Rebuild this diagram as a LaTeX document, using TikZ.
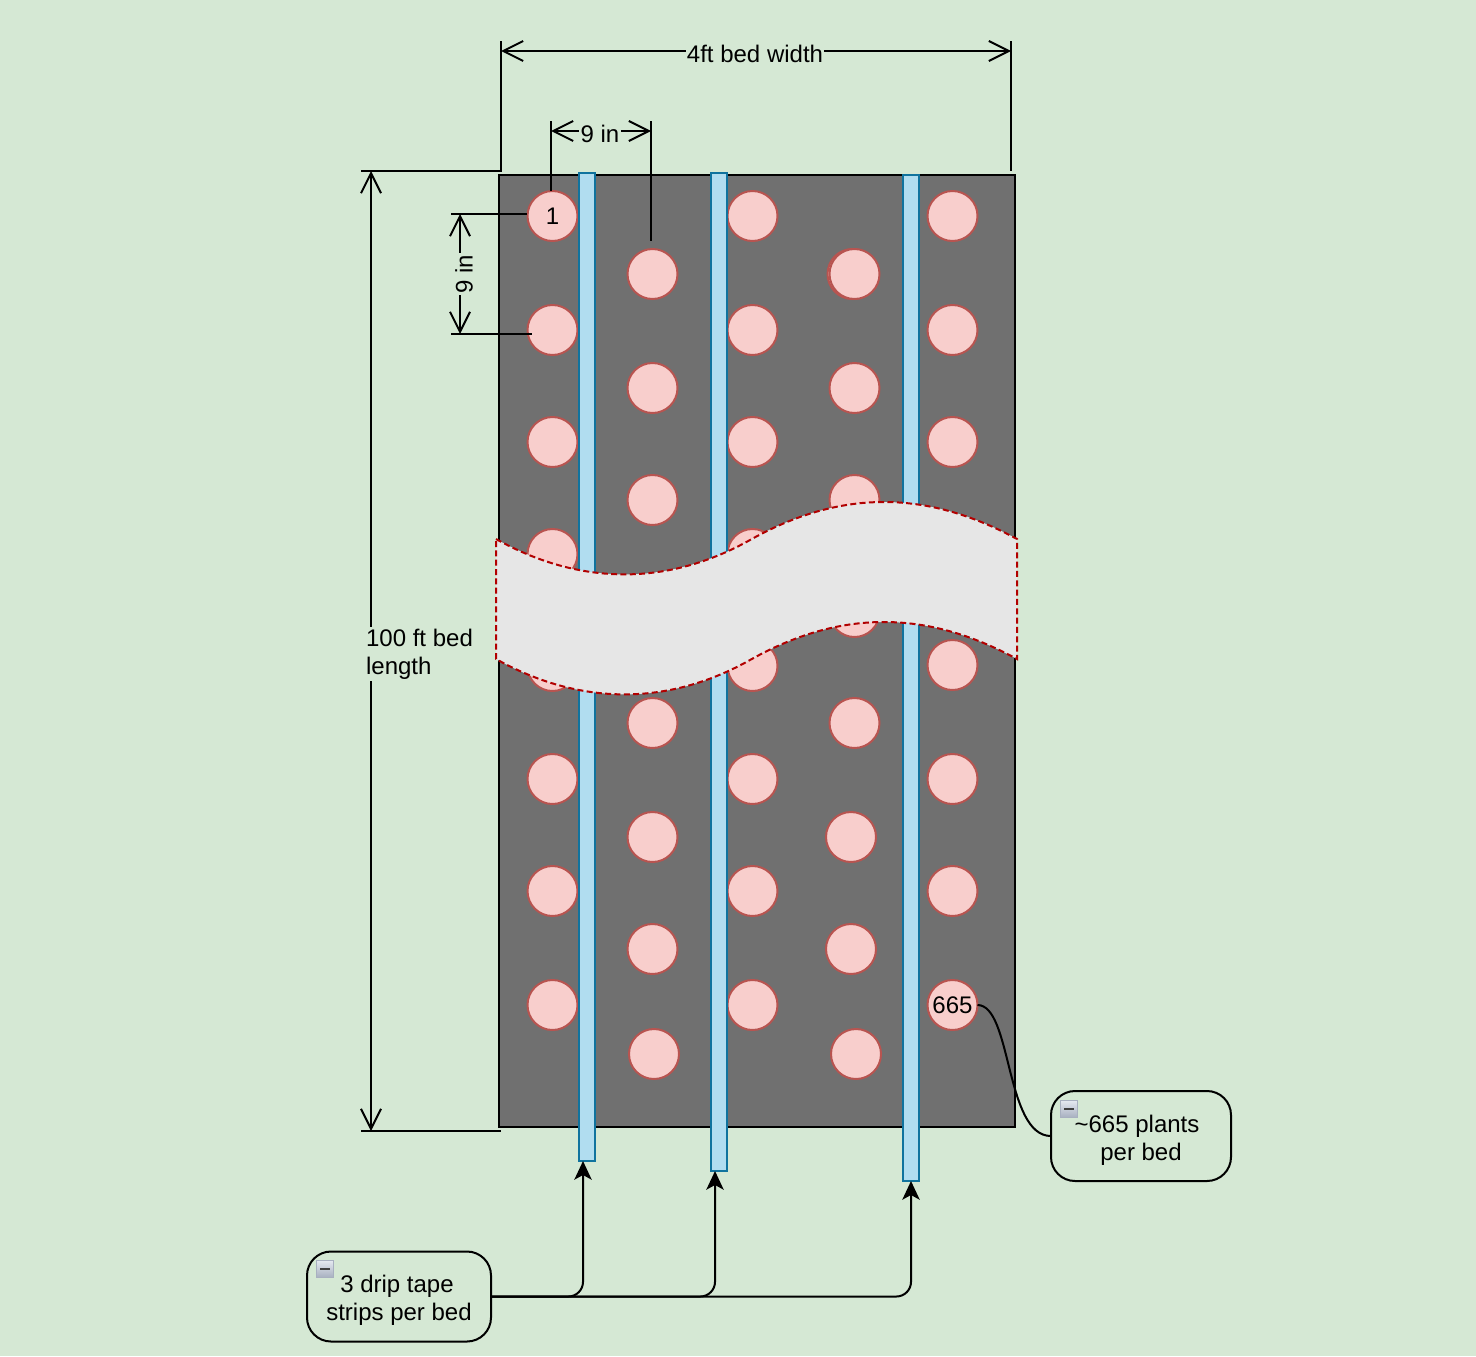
\documentclass[tikz,border=0pt]{standalone}
\usepackage{fontspec}
\setmainfont{Liberation Sans}
\usepackage{tikz}
\definecolor{bedgreen}{HTML}{D5E8D4}
\definecolor{gray450}{HTML}{707070}
\definecolor{plantfill}{HTML}{F8CECC}
\definecolor{plantline}{HTML}{B85450}
\definecolor{tapefill}{HTML}{B1DDF0}
\definecolor{tapeline}{HTML}{10739E}
\definecolor{breakfill}{HTML}{E6E6E6}
\definecolor{breakline}{HTML}{B20000}
\definecolor{minustop}{HTML}{E4E8F0}
\definecolor{minusbottom}{HTML}{A8B0C0}
\usetikzlibrary{arrows.meta}
\tikzstyle{plant}=[circle, draw=plantline, fill=plantfill, line width=1.5pt, inner sep=0pt, outer sep=0pt, minimum size=37.5pt]
\tikzstyle{tape}=[rectangle, draw=tapeline, fill=tapefill, line width=1.5pt, inner sep=0pt, outer sep=0pt, minimum width=11.75pt]
\tikzstyle{bed}=[rectangle, draw=black, fill=gray450, line width=1.5pt, inner sep=0pt, outer sep=0pt, minimum width=387pt, minimum height=714pt]
\tikzstyle{note}=[rectangle, rounded corners=18pt, draw=black, line width=1.5pt, inner sep=0pt, outer sep=0pt, align=center]
\tikzstyle{dimtext}=[fill=bedgreen, inner sep=1pt, align=left]
\tikzstyle{dimline}=[line width=1.5pt, <->, >={Straight Barb[length=15pt, width=15pt, line width=1.5pt]}]
\tikzstyle{extline}=[line width=1.5pt]
\tikzstyle{feed}=[line width=1.5pt, ->, >={Stealth[length=14pt, width=13pt, inset=3.5pt]}, rounded corners=11pt]
\tikzstyle{minusbox}=[rectangle, draw=minusbottom, top color=minustop, bottom color=minusbottom, line width=.5pt, minimum size=12.5pt, inner sep=0pt,
	path picture={\draw[line width=1.5pt, black!75] ([xshift=-3.5pt]path picture bounding box.center) -- ([xshift=3.5pt]path picture bounding box.center);}]

\begin{document}
\begin{tikzpicture}[x=.75pt, y=-.75pt, font=\fontsize{18}{21}\selectfont]
	\fill[bedgreen] (0,0) rectangle (1476,1356);
	\useasboundingbox (0,0) rectangle (1476,1356);

	\node[bed] (bed) at (757,651) {};

	\node[plant] (p1) at (552.5,216) {1};
	\node[plant] (p2) at (552.5,330) {};
	\node[plant] (p3) at (552.5,442) {};
	\node[plant] (p4) at (552.5,554) {};
	\node[plant] (p5) at (552.5,666) {};
	\node[plant] (p6) at (552.5,779) {};
	\node[plant] (p7) at (552.5,891) {};
	\node[plant] (p8) at (552.5,1005) {};

	\node[plant] (p9) at (652.5,274) {};
	\node[plant] (p10) at (652.5,388) {};
	\node[plant] (p11) at (652.5,500) {};
	\node[plant] (p12) at (652.5,723) {};
	\node[plant] (p13) at (652.5,837) {};
	\node[plant] (p14) at (652.5,949) {};
	\node[plant] (p15) at (654,1054) {};

	\node[plant] (p16) at (752.5,216) {};
	\node[plant] (p17) at (752.5,330) {};
	\node[plant] (p18) at (752.5,442) {};
	\node[plant] (p19) at (752.5,554) {};
	\node[plant] (p20) at (752.5,666) {};
	\node[plant] (p21) at (752.5,779) {};
	\node[plant] (p22) at (752.5,891) {};
	\node[plant] (p23) at (752.5,1005) {};

	\node[plant] (p24) at (852.5,274) {};
	\node[plant] (p25) at (854.5,274) {};
	\node[plant] (p26) at (854.5,388) {};
	\node[plant] (p27) at (854.5,500) {};
	\node[plant] (p28) at (854.5,612) {};
	\node[plant] (p29) at (854.5,723) {};
	\node[plant] (p30) at (851,837) {};
	\node[plant] (p31) at (851,949) {};
	\node[plant] (p32) at (856,1054) {};

	\node[plant] (p33) at (952.5,216) {};
	\node[plant] (p34) at (952.5,330) {};
	\node[plant] (p35) at (952.5,442) {};
	\node[plant] (p36) at (952.5,665) {};
	\node[plant] (p37) at (952.5,779) {};
	\node[plant] (p38) at (952.5,891) {};
	\node[plant] (p665) at (952.5,1005) {665};

	\node[tape, minimum height=741pt] (tape1) at (587,667) {};
	\node[tape, minimum height=748.5pt] (tape2) at (719,672) {};
	\node[tape, minimum height=754.5pt] (tape3) at (911,678) {};

	\draw[breakline, fill=breakfill, line width=1.5pt, dash pattern=on 4.5pt off 2.5pt]
		(496,539) .. controls (580,586) and (668,586) .. (750,540)
		.. controls (840,489.5) and (926,489.5) .. (1017,539)
		-- (1017,659) .. controls (926,609.5) and (840,609.5) .. (750,660)
		.. controls (668,706) and (580,706) .. (496,659) -- cycle;

	\coordinate (widthL) at (501,51);
	\coordinate (widthR) at (1011,51);
	\coordinate (widthLtop) at (501,41);
	\coordinate (widthRtop) at (1011,41);
	\coordinate (widthLend) at (501,171);
	\coordinate (widthRend) at (1011,171);
	\coordinate (lengthT) at (371,171);
	\coordinate (lengthB) at (371,1131);
	\coordinate (lengthTend) at (361,171);
	\coordinate (lengthBend) at (361,1131);
	\coordinate (lengthBright) at (501,1131);
	\coordinate (spaceL) at (551,131);
	\coordinate (spaceR) at (651,131);
	\coordinate (spaceLtop) at (551,121);
	\coordinate (spaceRtop) at (651,121);
	\coordinate (spaceLend) at (551,191);
	\coordinate (spaceRend) at (651,241);
	\coordinate (rowT) at (460,214);
	\coordinate (rowB) at (460,334);
	\coordinate (rowTleft) at (451,214);
	\coordinate (rowBleft) at (451,334);
	\coordinate (rowTend) at (527,214);
	\coordinate (rowBend) at (532,334);

	\draw[extline] (widthLtop) -- (widthLend) -- (lengthTend);
	\draw[extline] (widthRtop) -- (widthRend);
	\draw[extline] (lengthBend) -- (lengthBright);
	\draw[extline] (spaceLtop) -- (spaceLend);
	\draw[extline] (spaceRtop) -- (spaceRend);
	\draw[extline] (rowTleft) -- (rowTend);
	\draw[extline] (rowBleft) -- (rowBend);

	\draw[dimline] (widthL) -- (widthR);
	\draw[dimline] (lengthT) -- (lengthB);
	\draw[dimline] (spaceL) -- (spaceR);
	\draw[dimline] (rowT) -- (rowB);

	\node[dimtext] (widthlabel) at (755,54) {4ft bed width};
	\node[dimtext] (lengthlabel) at (419.5,654) {100 ft bed\\length};
	\node[dimtext] (spacelabel) at (600,134) {9 in};
	\node[dimtext, rotate=90] (rowlabel) at (464,274) {9 in};

	\node[note, minimum width=135pt, minimum height=67.5pt] (plantnote) at (1141,1136) {\rule{0pt}{19pt}\textasciitilde 665 plants\hspace*{6pt}\\per bed};
	\node[note, minimum width=138pt, minimum height=67.5pt] (tapenote) at (399,1296.5) {\rule{0pt}{19pt}3 drip tape\hspace*{3pt}\\strips per bed};
	\node[minusbox] (plantminus) at (1069,1109) {};
	\node[minusbox] (tapeminus) at (325,1269) {};

	\draw[extline] (p665.east) .. controls (1012,1005) and (1005,1136) .. (plantnote.west);

	\coordinate (feed1) at (583,1161);
	\coordinate (feed2) at (715,1171);
	\coordinate (feed3) at (911,1181);
	\draw[feed] (tapenote.east) -| (feed1);
	\draw[feed] (tapenote.east) -| (feed2);
	\draw[feed] (tapenote.east) -| (feed3);
\end{tikzpicture}
\end{document}
